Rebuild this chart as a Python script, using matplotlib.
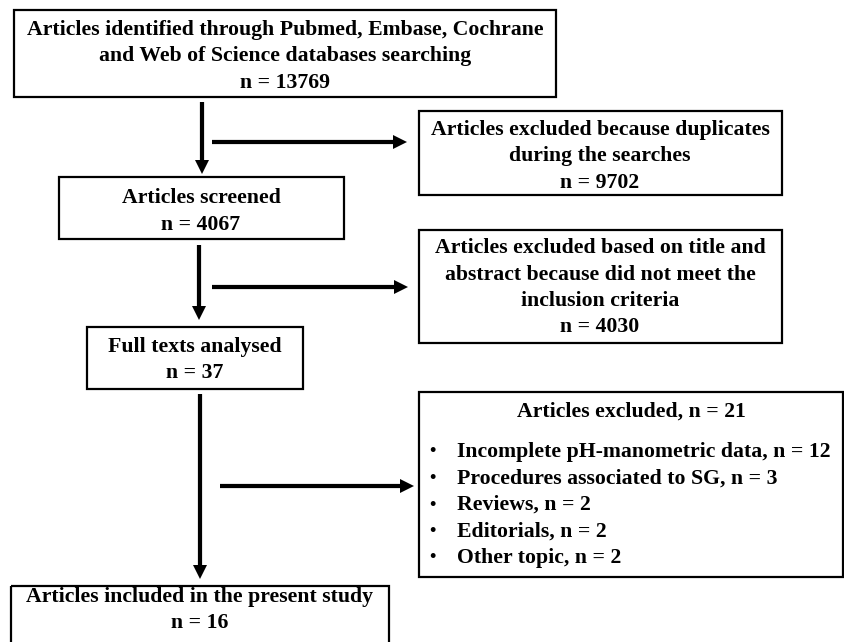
import matplotlib
matplotlib.use("Agg")
import matplotlib.pyplot as plt
from matplotlib.patches import Rectangle

# ── content ───────────────────────────────────────────────────────────────────
identified_lines = ["Articles identified through Pubmed, Embase, Cochrane",
                    "and Web of Science databases searching",
                    "n = 13769"]
duplicates_lines = ["Articles excluded because duplicates",
                    "during the searches",
                    "n = 9702"]
screened_lines   = ["Articles screened", "n = 4067"]
title_excl_lines = ["Articles excluded based on title and",
                    "abstract because did not meet the",
                    "inclusion criteria",
                    "n = 4030"]
fulltext_lines   = ["Full texts analysed", "n = 37"]
excl21_title     = "Articles excluded, n = 21"
excl21_reasons   = ["Incomplete pH-manometric data, n = 12",
                    "Procedures associated to SG, n = 3",
                    "Reviews, n = 2",
                    "Editorials, n = 2",
                    "Other topic, n = 2"]
included_lines   = ["Articles included in the present study", "n = 16"]

FONT = dict(family="Liberation Serif", weight="bold", fontsize=15.65, color="black")
LINE = 26.5  # px between text lines

fig = plt.figure(figsize=(8.45, 6.42), dpi=100)
ax = fig.add_axes([0, 0, 1, 1])
ax.set_xlim(0, 845)
ax.set_ylim(642, 0)
ax.axis("off")


def box(x0, y0, x1, y1):
    ax.add_patch(Rectangle((x0, y0), x1 - x0, y1 - y0, fill=False,
                           edgecolor="black", lw=1.6, clip_on=False))


def lines(cx, y_first, texts):
    for i, t in enumerate(texts):
        ax.text(cx, y_first + i * LINE, t, ha="center", va="center", **FONT)


def arrow(x0, y0, x1, y1):
    # filled arrow, axis units are pixels
    ax.arrow(x0, y0, x1 - x0, y1 - y0, width=4.2, head_width=14, head_length=14,
             length_includes_head=True, fc="black", ec="none", lw=0)


# ── boxes ─────────────────────────────────────────────────────────────────────
box(14, 10, 556, 97)
lines(285, 30, identified_lines)

box(419, 111, 782, 195)
lines(600, 130, duplicates_lines)

box(59, 177, 344, 239)
lines(201, 198, screened_lines)

box(419, 230, 782, 343)
lines(600, 248, title_excl_lines)

box(87, 327, 303, 389)
lines(195, 347, fulltext_lines)

box(419, 392, 843, 577)
ax.text(631, 412, excl21_title, ha="center", va="center", **FONT)
for i, t in enumerate(excl21_reasons):
    y = 452 + i * LINE
    ax.text(432, y, "•", ha="center", va="center", family="Liberation Serif",
            weight="bold", fontsize=13, color="black")
    ax.text(457, y, t, ha="left", va="center", **FONT)

box(11, 586, 389, 660)
lines(200, 597, included_lines)

# ── arrows ────────────────────────────────────────────────────────────────────
arrow(202, 102, 202, 174)
arrow(212, 142, 407, 142)
arrow(199, 245, 199, 320)
arrow(212, 287, 408, 287)
arrow(200, 394, 200, 579)
arrow(220, 486, 414, 486)

fig.savefig("out.png", dpi=100, facecolor="white")
